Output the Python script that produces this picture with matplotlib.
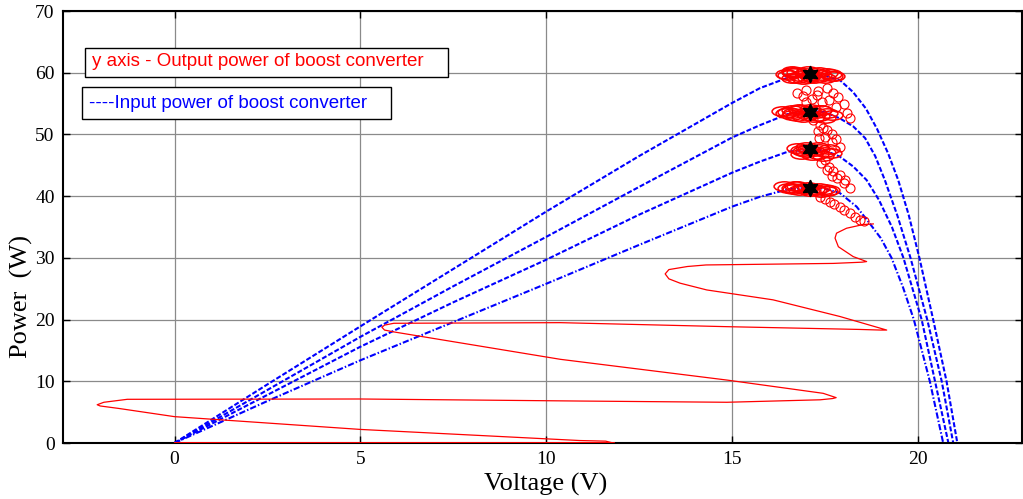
import matplotlib
matplotlib.use("Agg")
import matplotlib.pyplot as plt
from matplotlib.path import Path
from matplotlib.transforms import Affine2D
from matplotlib.patches import Rectangle

# ---------------- data ----------------
# Input power curves (PV P-V curves) for four irradiance levels
v_in1 = [0, 2.5, 5, 7.5, 10, 12.5, 15, 15.75, 16.5, 17.1, 17.5, 17.9, 18.25, 18.6, 18.9, 19.2, 19.47, 19.75, 20.04, 20.41, 20.77, 21.06]
p_in1 = [0, 9.5, 18.9, 28.2, 37.5, 46.5, 55.1, 57.5, 59.2, 59.7, 59.5, 58.8, 56.9, 54.2, 50.9, 46.9, 42.6, 37.0, 30.0, 20.0, 10.0, 0]
v_in2 = [0, 2.5, 5, 7.5, 10, 12.5, 15, 15.75, 16.5, 17.1, 17.5, 17.9, 18.26, 18.58, 18.85, 19.11, 19.45, 19.80, 20.25, 20.64, 20.95]
p_in2 = [0, 8.6, 17.2, 25.4, 33.4, 41.5, 49.5, 51.5, 53.3, 53.8, 53.6, 52.6, 51.3, 49.4, 46.5, 42.6, 36.8, 30.0, 20.0, 10.0, 0]
v_in3 = [0, 2.5, 5, 7.5, 10, 12.5, 15, 15.75, 16.5, 17.1, 17.5, 17.9, 18.26, 18.62, 18.95, 19.3, 19.61, 20.10, 20.46, 20.82]
p_in3 = [0, 7.8, 15.6, 22.8, 29.7, 37.0, 43.8, 45.6, 47.2, 47.6, 47.4, 46.4, 44.8, 42.6, 39.4, 35.0, 30.0, 20.0, 10.0, 0]
v_in4 = [0, 2.5, 5, 7.5, 10, 12.5, 15, 15.75, 16.5, 17.1, 17.5, 17.9, 18.35, 18.7, 19.0, 19.29, 19.6, 19.89, 20.32, 20.68]
p_in4 = [0, 6.8, 13.4, 19.6, 25.8, 32.1, 38.3, 39.9, 41.1, 41.4, 41.2, 40.5, 38.3, 35.6, 33.2, 30.0, 25.2, 20.0, 10.0, 0]

# Output power trajectory (start-up transient)
v_out = [0, 11.8, 11.6, 10.9, 5.0, 0.0, -1.5, -2.0, -2.08, -1.9, -1.27, 5.0, 10.9, 14.86, 17.37, 17.7, 17.8,
         17.45, 14.86, 10.38, 5.9, 5.65, 5.58, 5.65, 5.9, 10.38, 14.86, 18.44, 19.0, 19.16,
         17.9, 16.1, 14.32, 13.6, 13.3, 13.2, 13.3, 13.8, 14.3, 17.72, 18.5, 18.62,
         18.26, 17.86, 17.77, 17.81, 18.08, 18.53, 18.8]
p_out = [0, 0, 0.3, 0.4, 2.2, 4.27, 5.6, 6.0, 6.2, 6.6, 7.08, 7.13, 6.8, 6.6, 7.0, 7.2, 7.35,
         8.05, 10.2, 13.56, 18.0, 18.3, 18.75, 19.1, 19.4, 19.5, 18.85, 18.4, 18.3, 18.3,
         20.5, 23.2, 24.8, 25.9, 26.6, 27.4, 28.1, 28.6, 28.85, 29.1, 29.3, 29.4,
         30.2, 31.8, 33.2, 34.0, 34.8, 35.4, 35.5]

# Oscillation loops between operating points (chains)
chain_v = [18.55, 18.44, 18.3, 18.17, 18.0, 17.9, 17.75, 17.63, 17.5, 17.37,
           18.17, 18.05, 18.0, 17.9, 17.81, 17.7, 17.72, 17.55, 17.6, 17.4, 17.5,
           17.9, 17.8, 17.68, 17.35, 17.5, 17.7, 17.3, 17.55, 17.45, 17.37, 17.19,
           18.17, 18.08, 18.0, 17.8, 17.6, 17.15, 16.9, 17.0, 17.41, 17.85, 17.72, 17.55, 17.3, 17.28, 17.0, 16.74]
chain_p = [35.9, 36.1, 36.6, 37.2, 37.8, 38.3, 38.7, 39.1, 39.5, 39.9,
           41.3, 42.6, 42.1, 43.5, 42.9, 43.2, 44.0, 44.3, 44.8, 45.4, 45.9,
           48.0, 49.3, 48.8, 49.5, 49.6, 50.0, 50.5, 50.7, 51.0, 51.5, 52.3,
           52.6, 53.4, 55.0, 54.5, 55.6, 55.8, 56.2, 55.3, 55.3, 56.0, 56.7, 57.5, 57.0, 56.4, 57.2, 56.7]

# Loops around each maximum power point (clusters)
clu_v = [16.4, 16.5, 16.6, 16.7, 16.75, 16.9, 17.05, 17.2, 17.35, 17.5, 17.6, 16.65, 16.8, 16.95, 17.1, 17.25, 17.4, 17.55,
         16.75, 16.85, 16.9, 17.05, 17.2, 17.35, 17.5, 17.65, 16.85, 17.0, 17.15, 17.3, 17.45, 17.0, 17.3, 17.6,
         16.35, 16.45, 16.5, 16.6, 16.65, 16.8, 16.95, 17.1, 17.25, 17.4, 17.55, 17.7, 16.6, 16.75, 16.9, 17.05, 17.2, 17.35, 17.5, 16.8, 17.1, 17.4,
         16.45, 16.5, 16.6, 16.65, 16.8, 16.95, 17.1, 17.25, 17.4, 17.55, 17.7, 16.6, 16.75, 16.9, 17.05, 17.2, 17.35, 17.5, 17.75, 16.6, 16.75, 17.05, 17.35, 17.65]
clu_p = [41.6, 41.4, 41.3, 41.7, 41.6, 41.3, 41.5, 41.2, 41.4, 41.1, 41.0, 41.1, 41.0, 41.2, 40.9, 41.0, 40.7, 40.8,
         47.8, 47.5, 47.3, 47.7, 47.3, 47.6, 47.2, 47.0, 46.9, 47.1, 46.7, 46.9, 46.5, 47.9, 47.9, 47.6,
         53.8, 53.5, 53.7, 54.0, 53.4, 53.9, 53.5, 53.8, 53.4, 53.9, 53.5, 53.2, 53.1, 53.0, 52.9, 53.1, 52.8, 53.0, 52.7, 54.1, 54.2, 54.0,
         59.8, 59.6, 60.1, 59.9, 59.4, 59.9, 59.5, 60.0, 59.6, 59.9, 59.5, 59.2, 59.1, 59.0, 59.2, 59.1, 59.3, 59.2, 59.4, 60.3, 60.1, 60.2, 60.1, 59.8]

# Maximum power points
mpp_v = [17.1, 17.1, 17.1, 17.1]
mpp_p = [59.8, 53.7, 47.6, 41.4]

x_ticks = [0, 5, 10, 15, 20]
y_ticks = [0, 10, 20, 30, 40, 50, 60, 70]
legend_out = "y axis - Output power of boost converter"
legend_in = "----Input power of boost converter"

# ---------------- figure ----------------
fig = plt.figure(figsize=(10.23, 4.99), dpi=100)
ax = fig.add_axes([63 / 1023, 1 - 443 / 499, (1022 - 63) / 1023, (443 - 11) / 499])

grid_c = "#8a8a8a"
ax.set_axisbelow(True)
ax.grid(True, color=grid_c, linewidth=0.9)

blue = (0, 0, 1)
red = (1, 0, 0)
dash = (2.4, 1.0)
dashdot = (3.0, 1.0, 0.7, 1.0)
ax.plot(v_in1, p_in1, color=blue, lw=1.5, dashes=dash, zorder=2)
ax.plot(v_in2, p_in2, color=blue, lw=1.5, dashes=dash, zorder=2)
ax.plot(v_in3, p_in3, color=blue, lw=1.5, dashes=dash, zorder=2)
ax.plot(v_in4, p_in4, color=blue, lw=1.5, dashes=dashdot, zorder=2)

ax.plot(v_out, p_out, color=red, lw=0.9, zorder=3)
ax.plot(v_out[:2], p_out[:2], color=red, lw=2.0, zorder=3)

ax.plot(chain_v, chain_p, linestyle="none", marker="o", ms=6.5,
        mfc="none", mec=red, mew=0.8, zorder=3)

ell = Path.unit_circle().transformed(Affine2D().scale(1.0, 0.45))
ax.plot(clu_v, clu_p, linestyle="none", marker=ell, ms=15, mfc="none",
        mec=red, mew=1.1, zorder=3)

ax.plot(mpp_v, mpp_p, linestyle="none", marker=(6, 1, 0), ms=12,
        color="black", zorder=5)

ax.set_xlim(-3, 22.8)
ax.set_ylim(0, 70)
ax.set_xticks(x_ticks)
ax.set_yticks(y_ticks)
ax.tick_params(direction="in", length=5, width=1.0, top=True, right=True,
               labelsize=14, pad=6)
for lab in ax.get_xticklabels() + ax.get_yticklabels():
    lab.set_fontfamily("Liberation Serif")
for s in ax.spines.values():
    s.set_linewidth(1.5)

ax.set_xlabel("Voltage (V)", fontsize=19, family="Liberation Serif")
ax.xaxis.set_label_coords(0.503, -0.07)
ax.set_ylabel("Power  (W)", fontsize=19, family="Liberation Serif")
ax.yaxis.set_label_coords(-0.031, 0.34)

# legend-like text boxes
ax.add_patch(Rectangle((0.023, 0.847), 0.378, 0.067, transform=ax.transAxes,
                       facecolor="white", edgecolor="black", lw=1.0, zorder=6))
ax.text(0.030, 0.882, legend_out, transform=ax.transAxes, color=red,
        fontsize=13.5, family="Liberation Sans", va="center", ha="left", zorder=7)
ax.add_patch(Rectangle((0.020, 0.750), 0.322, 0.074, transform=ax.transAxes,
                       facecolor="white", edgecolor="black", lw=1.0, zorder=6))
ax.text(0.027, 0.787, legend_in, transform=ax.transAxes, color=blue,
        fontsize=13.5, family="Liberation Sans", va="center", ha="left", zorder=7)

fig.savefig("out.png", dpi=100)
